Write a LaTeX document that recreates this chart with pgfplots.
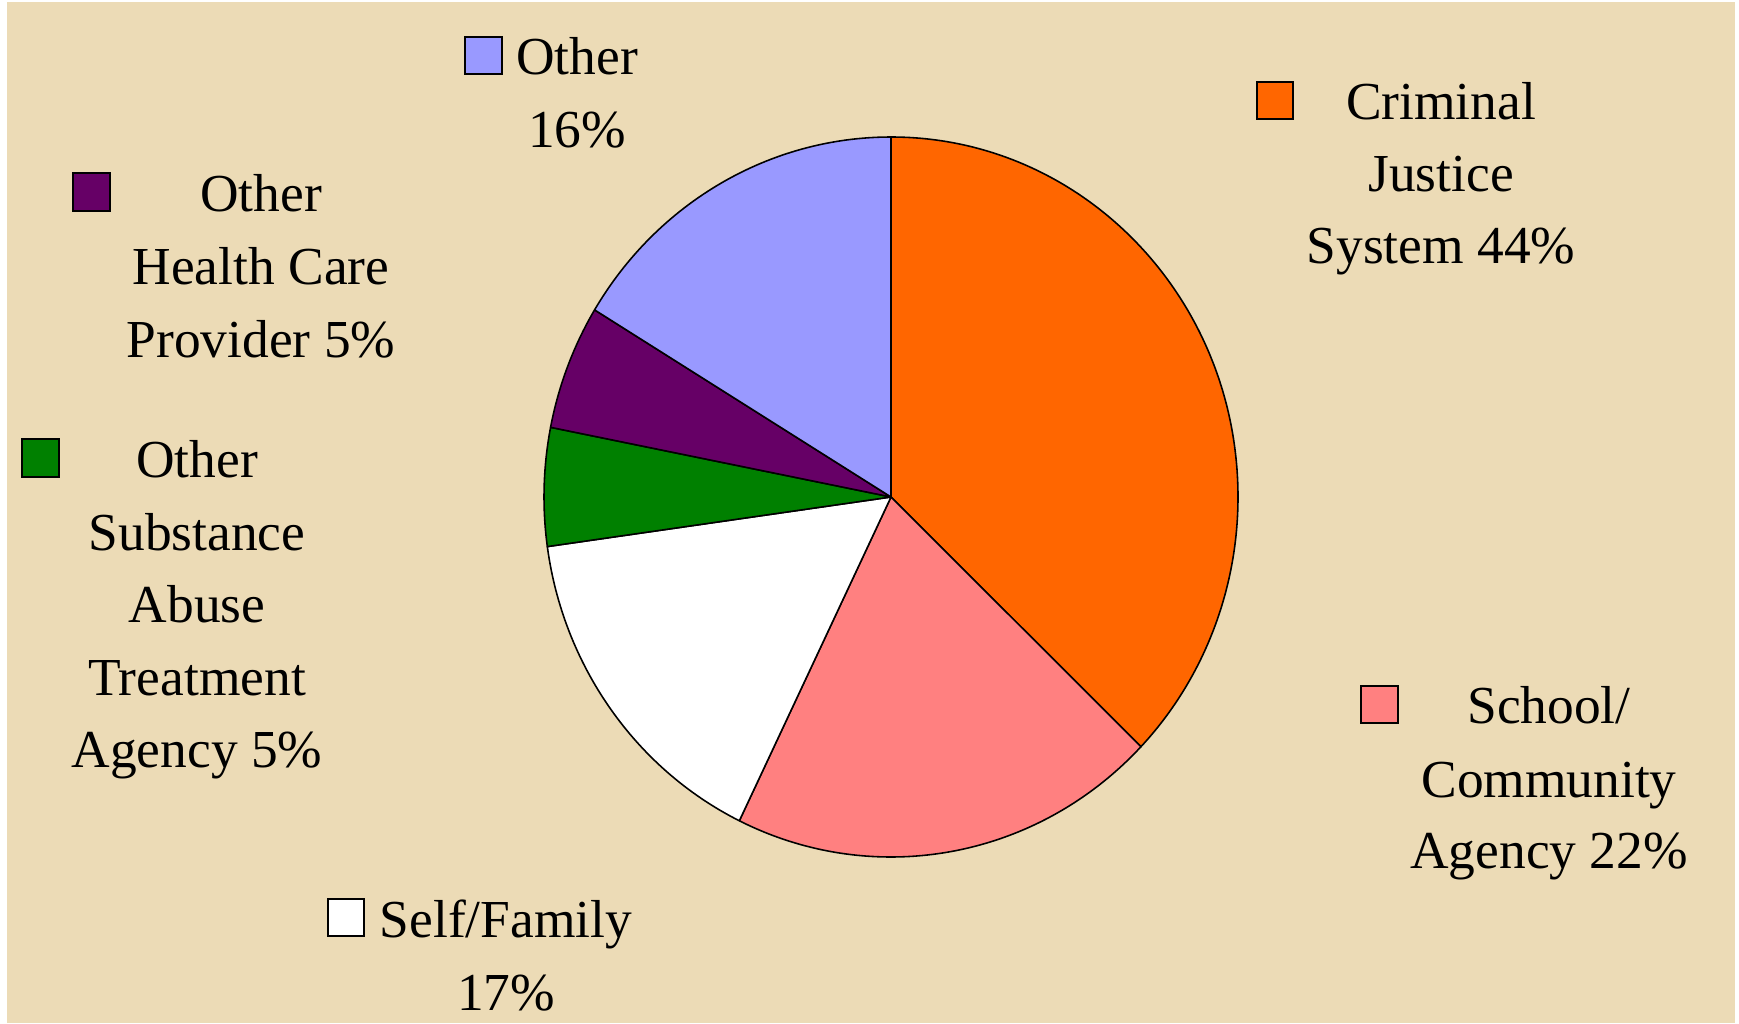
\documentclass[border=0pt]{standalone}
\usepackage{pgfplots}
\pgfplotsset{compat=1.18}
\usepackage{pgfplotstable}
\usepackage{fontspec}
\setmainfont{Liberation Serif}
\definecolor{bg}{HTML}{ECDBB6}
\definecolor{crim}{HTML}{FF6600}
\definecolor{school}{HTML}{FF8080}
\definecolor{selffam}{HTML}{FFFFFF}
\definecolor{othsa}{HTML}{008000}
\definecolor{othhc}{HTML}{660066}
\definecolor{other}{HTML}{9999FF}

% slice sizes as drawn (percent of the full circle), clockwise from 12 o'clock
\pgfplotstableread{
label value
Criminal 37.2
School 20.0
SelfFamily 15.6
OtherSA 5.3
OtherHC 5.6
Other 16.3
}\piedata

\tikzset{lab/.style={anchor=base, inner sep=0pt, font=\fontsize{15.2pt}{18pt}\selectfont}}

\begin{document}
\begin{tikzpicture}
\pgfplotstablegetelem{0}{value}\of\piedata \let\vA\pgfplotsretval
\pgfplotstablegetelem{1}{value}\of\piedata \let\vB\pgfplotsretval
\pgfplotstablegetelem{2}{value}\of\piedata \let\vC\pgfplotsretval
\pgfplotstablegetelem{3}{value}\of\piedata \let\vD\pgfplotsretval
\pgfplotstablegetelem{4}{value}\of\piedata \let\vE\pgfplotsretval
\pgfplotstablegetelem{5}{value}\of\piedata \let\vF\pgfplotsretval
\pgfmathsetmacro\aA{90}
\pgfmathsetmacro\aB{\aA-3.6*\vA}
\pgfmathsetmacro\aC{\aB-3.6*\vB}
\pgfmathsetmacro\aD{\aC-3.6*\vC}
\pgfmathsetmacro\aE{\aD-3.6*\vD}
\pgfmathsetmacro\aF{\aE-3.6*\vE}
\pgfmathsetmacro\aG{\aF-3.6*\vF}
\begin{axis}[
  x=0.1mm, y=0.1mm,
  xmin=0, xmax=1739, ymin=0, ymax=1023,
  hide axis, clip=false,
]
\fill[white] (axis cs:0,0) rectangle (axis cs:1739,1023);
\fill[bg] (axis cs:7,0) rectangle (axis cs:1735,1021);

\newcommand{\slice}[3]{%
  \filldraw[fill=#1, draw=black, line width=0.45pt, line join=round]
    (axis cs:891,526) -- ++(#2:34.7mm and 36mm)
    arc[start angle=#2, end angle=#3, x radius=34.7mm, y radius=36mm] -- cycle;}
\slice{crim}{\aA}{\aB}
\slice{school}{\aB}{\aC}
\slice{selffam}{\aC}{\aD}
\slice{othsa}{\aD}{\aE}
\slice{othhc}{\aE}{\aF}
\slice{other}{\aF}{\aG}

% legend squares
\tikzset{sq/.style={draw=black, line width=0.6pt}}
\filldraw[sq, fill=other]   (axis cs:465,949) rectangle (axis cs:502,986);
\filldraw[sq, fill=crim]    (axis cs:1257,904) rectangle (axis cs:1293,941);
\filldraw[sq, fill=othhc]   (axis cs:73,812) rectangle (axis cs:110,850);
\filldraw[sq, fill=othsa]   (axis cs:22,546) rectangle (axis cs:59,584);
\filldraw[sq, fill=school]  (axis cs:1361,300) rectangle (axis cs:1398,337);
\filldraw[sq, fill=selffam] (axis cs:328,87) rectangle (axis cs:364,124);

% labels
\node[lab] at (axis cs:577,948) {Other};
\node[lab] at (axis cs:577,875) {16\%};

\node[lab] at (axis cs:1441,903) {Criminal};
\node[lab] at (axis cs:1441,831) {Justice};
\node[lab] at (axis cs:1441,760) {System 44\%};

\node[lab] at (axis cs:261,811) {Other};
\node[lab] at (axis cs:261,738) {Health Care};
\node[lab] at (axis cs:261,666) {Provider 5\%};

\node[lab] at (axis cs:197,546) {Other};
\node[lab] at (axis cs:197,473) {Substance};
\node[lab] at (axis cs:197,401) {Abuse};
\node[lab] at (axis cs:197,328) {Treatment};
\node[lab] at (axis cs:197,256) {Agency 5\%};

\node[lab] at (axis cs:1549,300) {School/};
\node[lab] at (axis cs:1549,226) {Community};
\node[lab] at (axis cs:1549,155) {Agency 22\%};

\node[lab] at (axis cs:506,86) {Self/Family};
\node[lab] at (axis cs:506,13) {17\%};
\end{axis}
\pgfresetboundingbox
\path (current axis.south west) rectangle (current axis.north east);
\end{tikzpicture}
\end{document}
